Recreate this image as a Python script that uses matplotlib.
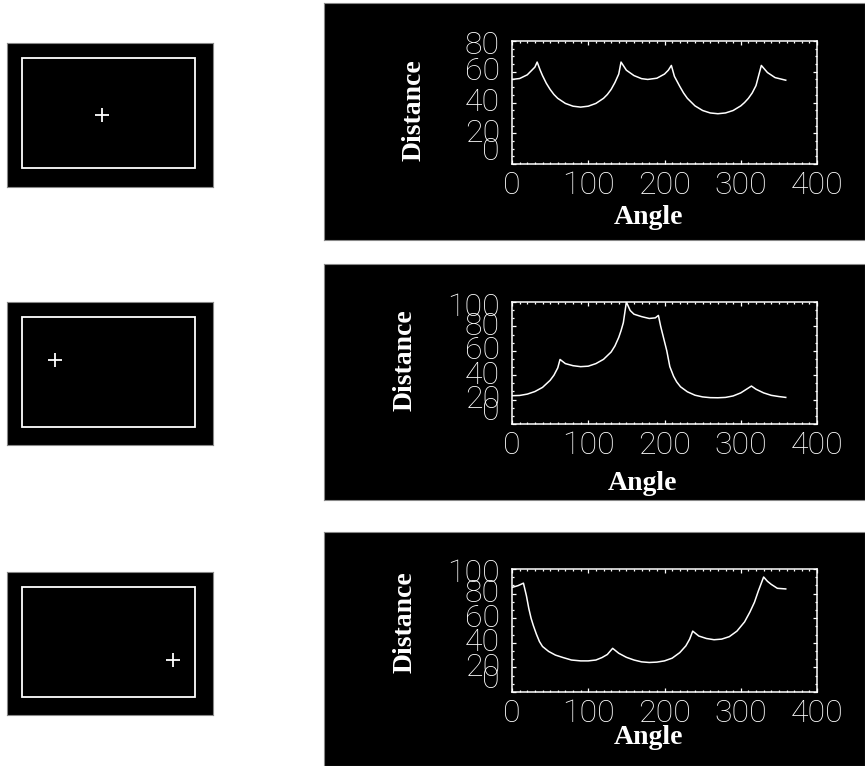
"""
Distance-to-boundary vs ray angle for three probe points inside a rectangle.
Left column: the rectangle and the probe point. Right column: distance curve.
"""
import matplotlib
matplotlib.use("Agg")
import matplotlib.pyplot as plt
from matplotlib.patches import Rectangle
from matplotlib.ticker import AutoMinorLocator, FixedLocator, NullFormatter
from matplotlib import transforms

W, H = 865, 766

# ---------- data ----------

# rectangle inside each left panel (panel pixel units) and probe points
BOX_X, BOX_Y, BOX_W, BOX_H = 15, 15, 173, 110
PLUS_X = [95.4, 47.7, 166.0]
PLUS_Y = [72.4, 57.7, 87.6]

ANGLE_1 = [0, 10, 20, 30, 33, 37, 40, 45, 50, 55, 60, 70, 80, 90, 100, 110, 120,
           125, 130, 135, 140, 143, 150, 160, 170, 178, 190, 200, 205, 209, 213,
           220, 225, 230, 240, 250, 260, 270, 280, 290, 300, 305, 310, 315, 320,
           327, 335, 345, 359]
DIST_1 = [55, 55.6, 58, 63, 66.3, 61, 57.5, 52.5, 48.5, 45.2, 42.7, 39.4, 37.6,
          37, 37.6, 39.4, 42.7, 45.2, 48.5, 53, 58.5, 66.3, 61, 57.5, 55.5, 55,
          55.8, 58.5, 61, 64.1, 57, 50.5, 46.2, 42.7, 37.8, 34.8, 33.2, 32.7,
          33.2, 34.8, 37.8, 40, 42.7, 46.2, 51, 64.1, 59.5, 56.2, 54.5]

ANGLE_2 = [0, 10, 20, 30, 40, 50, 55, 60, 63, 70, 80, 90, 100, 110, 120, 130,
           135, 140, 143, 146, 150, 155, 160, 170, 180, 188, 192, 195, 199, 203,
           207, 212, 216, 221, 230, 240, 250, 260, 270, 280, 290, 300, 310, 314,
           320, 330, 340, 350, 359]
DIST_2 = [23.2, 23.4, 24.5, 26.6, 30, 35.8, 40, 46, 52.9, 49.5, 47.8, 47, 47.4,
          49.5, 53, 59, 64, 71, 76.5, 83, 100, 93, 90, 88, 86.5, 87, 89, 80, 70,
          60, 47, 39, 34.5, 30.5, 26.4, 23.6, 22.2, 21.6, 21.5, 21.8, 23, 25.5,
          29.5, 31.1, 28.5, 25.5, 23.5, 22.5, 21.8]

ANGLE_3 = [0, 8, 15, 19, 22, 25, 28, 32, 36, 40, 48, 57, 67, 78, 90, 100, 110,
           118, 125, 132, 140, 150, 160, 170, 180, 190, 200, 210, 220, 228, 233,
           237, 245, 255, 265, 275, 285, 295, 305, 312, 318, 323, 330, 335, 340,
           348, 359]
DIST_3 = [85, 86.5, 88.5, 78, 68, 60, 54, 47, 41, 37, 33, 30, 28, 26, 25.3, 25.3,
          26, 28, 30.5, 35.5, 31.5, 28.2, 26, 24.5, 24, 24.3, 25.3, 27.5, 32,
          37.5, 43, 49.5, 45.5, 43.5, 42.5, 43, 45, 49.5, 57, 65, 73, 82, 93.5,
          90, 87.5, 84.3, 83.8]

ANGLES = [ANGLE_1, ANGLE_2, ANGLE_3]
DISTS = [DIST_1, DIST_2, DIST_3]
Y_MAX = [80, 100, 100]
Y_MINOR = [4, 3, 3]
X_TICKS = [0, 100, 200, 300, 400]

# ---------- layout (pixels) ----------

LEFT_PANELS = [(7, 43, 213, 187), (7, 302, 213, 445), (7, 572, 213, 715)]
RIGHT_PANELS = [(324, 3, 865, 240), (324, 264, 865, 500), (324, 532, 865, 766)]
PLOT_BOXES = [(512, 41, 817, 164), (512, 302, 817, 424), (512, 569, 817, 692)]
DIST_LABEL = [(414, 110), (405, 360), (405, 622)]
ANGLE_LABEL = [(649, 217), (642, 483), (648, 738)]


def px_axes(fig, box, **kw):
    x0, y0, x1, y1 = box
    return fig.add_axes([x0 / W, 1 - y1 / H, (x1 - x0) / W, (y1 - y0) / H], **kw)


def blank(ax):
    ax.set_facecolor("black")
    ax.set_xticks([]); ax.set_yticks([])
    for s in ax.spines.values():
        s.set_color("#888888"); s.set_linewidth(0.8)


fig = plt.figure(figsize=(W / 100, H / 100), dpi=100, facecolor="white")

tick_font = dict(family="Roboto", weight="light", size=23, color="white")
label_font = dict(family="Liberation Serif", weight="bold", size=20, color="white")

for i in range(3):
    # left: rectangle with probe point
    x0, y0, x1, y1 = LEFT_PANELS[i]
    ax = px_axes(fig, LEFT_PANELS[i])
    blank(ax)
    ax.set_xlim(0, x1 - x0); ax.set_ylim(y1 - y0, 0)
    ax.add_patch(Rectangle((BOX_X, BOX_Y), BOX_W, BOX_H, fill=False,
                           edgecolor="white", lw=1.3))
    ax.plot([PLUS_X[i]], [PLUS_Y[i]], marker="+", color="white", ms=10, mew=1.3)

    # right: black background + curve
    bg = px_axes(fig, RIGHT_PANELS[i])
    blank(bg)

    ax = px_axes(fig, PLOT_BOXES[i])
    ax.set_facecolor("black")
    ax.plot(ANGLES[i], DISTS[i], color="white", lw=1.1)
    ax.set_xlim(0, 400)
    ax.set_ylim(0, Y_MAX[i])
    for s in ax.spines.values():
        s.set_color("white"); s.set_linewidth(1.1)
    ax.xaxis.set_major_locator(FixedLocator(X_TICKS))
    ax.xaxis.set_minor_locator(AutoMinorLocator(10))
    y_ticks = list(range(0, Y_MAX[i] + 1, 20))
    ax.yaxis.set_major_locator(FixedLocator(y_ticks))
    ax.yaxis.set_minor_locator(AutoMinorLocator(Y_MINOR[i]))
    ax.tick_params(which="both", direction="in", top=True, right=True,
                   color="white", width=0.9)
    ax.tick_params(which="major", length=2.6)
    ax.tick_params(which="minor", length=1.5)
    ax.xaxis.set_major_formatter(NullFormatter())
    ax.yaxis.set_major_formatter(NullFormatter())

    # x tick labels
    for v in X_TICKS:
        tr = transforms.offset_copy(ax.get_xaxis_transform(), fig=fig,
                                    x=0, y=-7, units="dots")
        ax.text(v, 0, str(v), transform=tr, ha="center", va="top", **tick_font)

    # y tick labels: IDL pushes the end labels inside the axis range
    for k, v in enumerate(y_ticks):
        dy = 0
        if k == 0:
            dy = 12
        elif k == len(y_ticks) - 1:
            dy = -5
        tr = transforms.offset_copy(ax.get_yaxis_transform(), fig=fig,
                                    x=-12, y=dy, units="dots")
        ax.text(0, v, str(v), transform=tr, ha="right", va="center", **tick_font)

    fig.text(DIST_LABEL[i][0] / W, 1 - DIST_LABEL[i][1] / H, "Distance",
             rotation=90, ha="center", va="center", **label_font)
    fig.text(ANGLE_LABEL[i][0] / W, 1 - ANGLE_LABEL[i][1] / H, "Angle",
             ha="center", va="center", **label_font)

fig.savefig("out.png", dpi=100, facecolor="white")
